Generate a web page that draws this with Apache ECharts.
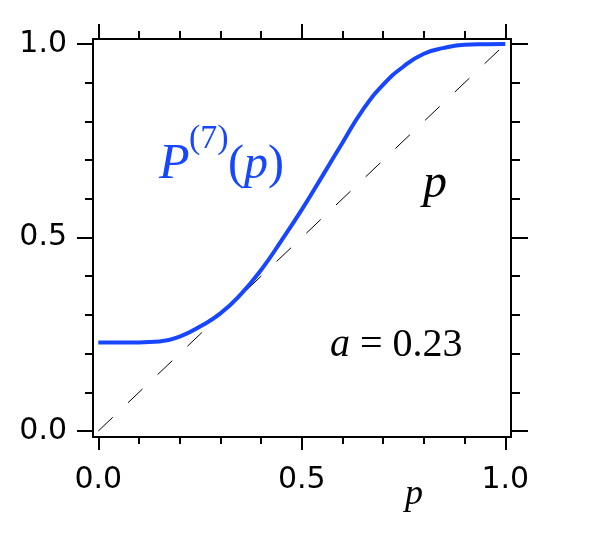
<!DOCTYPE html>
<html>
<head>
<meta charset="utf-8">
<script src="https://cdn.jsdelivr.net/npm/echarts@6/dist/echarts.min.js"></script>
<style>
  html, body { margin: 0; padding: 0; background: #fff; }
  #chart { width: 600px; height: 542px; }
</style>
</head>
<body>
<div id="chart"></div>
<script>
// values
const pVals = [0, 0.05, 0.10, 0.15, 0.20, 0.25, 0.30, 0.35, 0.40, 0.45, 0.50,
               0.55, 0.60, 0.65, 0.70, 0.75, 0.80, 0.85, 0.90, 0.95, 1.00];
const pSeven = [0.229, 0.229, 0.229, 0.231, 0.244, 0.270, 0.304, 0.353, 0.416, 0.492, 0.572,
                0.658, 0.745, 0.830, 0.895, 0.942, 0.975, 0.990, 0.998, 0.9995, 1.0];
const diagonal = [[0, 0], [1, 1]];
const majorTicks = [0, 0.5, 1];
const minorTicks = [0.1, 0.2, 0.3, 0.4, 0.6, 0.7, 0.8, 0.9];

const BLUE = '#1646ff';
const SERIF = '"Liberation Serif", "Times New Roman", serif';
const SANS = '"DejaVu Sans", Verdana, sans-serif';

const xRange = { min: -0.013, max: 1.014 };
const yRange = { min: -0.0155, max: 1.013 };

function axis(pos, range, ticks, len, withLine, withLabel, margin) {
    return {
        type: 'value', position: pos, min: range.min, max: range.max,
        axisLine: { show: withLine, onZero: false, lineStyle: { color: '#000', width: 2 } },
        axisTick: { show: true, customValues: ticks, length: len, lineStyle: { color: '#000', width: 2 } },
        axisLabel: withLabel ? {
            show: true, customValues: majorTicks, margin: margin,
            color: '#000', fontFamily: SANS, fontSize: 30,
            formatter: v => v.toFixed(1)
        } : { show: false },
        splitLine: { show: false }
    };
}

const chart = echarts.init(document.getElementById('chart'), null, { renderer: 'canvas' });

chart.setOption({
    animation: false,
    grid: { left: 93, right: 89, top: 39, bottom: 105 },
    xAxis: [
        axis('bottom', xRange, majorTicks, 13, true, true, 28),
        axis('bottom', xRange, minorTicks, 7, false, false),
        axis('top', xRange, majorTicks, 15, true, false),
        axis('top', xRange, minorTicks, 8, false, false)
    ],
    yAxis: [
        axis('left', yRange, majorTicks, 16, true, true, 26),
        axis('left', yRange, minorTicks, 8, false, false),
        axis('right', yRange, majorTicks, 17, true, false),
        axis('right', yRange, minorTicks, 9, false, false)
    ],
    series: [
        {
            type: 'line', data: diagonal, showSymbol: false, silent: true,
            lineStyle: { color: '#000', width: 1, type: [20, 21] }
        },
        {
            type: 'line', data: pVals.map((p, i) => [p, pSeven[i]]),
            showSymbol: false, smooth: 0.5,
            lineStyle: { color: BLUE, width: 4 }
        }
    ],
    graphic: [
        { type: 'text', x: 159, y: 164.6, style: { text: 'P', fill: BLUE, font: 'italic 50px ' + SERIF, verticalAlign: 'middle' } },
        { type: 'text', x: 189, y: 139, style: { text: '(7)', fill: BLUE, font: '34px ' + SERIF, verticalAlign: 'middle' } },
        { type: 'text', x: 228, y: 165, style: {
            text: '({i|p})', fill: BLUE, font: '48px ' + SERIF, verticalAlign: 'middle',
            rich: { i: { fontStyle: 'italic', fontSize: 48, fontFamily: SERIF, fill: BLUE } }
        } },
        { type: 'text', x: 423, y: 184.6, style: { text: 'p', fill: '#000', font: 'italic 48px ' + SERIF, verticalAlign: 'middle' } },
        { type: 'text', x: 330, y: 345.5, style: {
            text: '{i|a} = 0.23', fill: '#000', font: '40px ' + SERIF, verticalAlign: 'middle',
            rich: { i: { fontStyle: 'italic', fontSize: 40, fontFamily: SERIF, fill: '#000' } }
        } },
        { type: 'text', x: 405, y: 495, style: { text: 'p', fill: '#000', font: 'italic 36px ' + SERIF, verticalAlign: 'middle' } }
    ]
});

window.addEventListener('resize', () => chart.resize());
</script>
</body>
</html>
